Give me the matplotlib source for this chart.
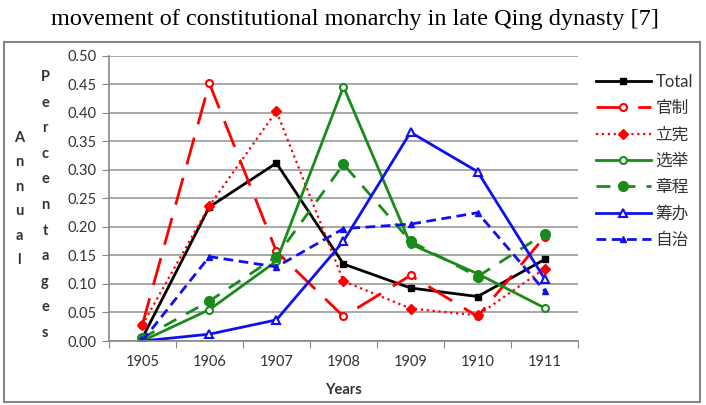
import matplotlib.pyplot as plt
import matplotlib.patches as mpatches
import numpy as np

plt.rcParams['font.family'] = ['Lato', 'Noto Sans CJK JP', 'DejaVu Sans']

years = ['1905', '1906', '1907', '1908', '1909', '1910', '1911']
total = [0.005, 0.235, 0.312, 0.135, 0.093, 0.078, 0.143]
guanzhi = [0.028, 0.452, 0.157, 0.043, 0.115, 0.043, 0.183]
lixian = [0.028, 0.237, 0.403, 0.105, 0.057, 0.045, 0.127]
xuanju = [0.0, 0.055, 0.140, 0.446, 0.170, 0.118, 0.058]
zhangcheng = [0.005, 0.070, 0.148, 0.310, 0.175, 0.113, 0.188]
choubang = [0.0, 0.012, 0.037, 0.175, 0.366, 0.297, 0.109]
zizhi = [0.0, 0.148, 0.130, 0.197, 0.205, 0.225, 0.088]

fig = plt.figure(figsize=(7.06, 4.05), dpi=100)
ax = fig.add_axes([0.154, 0.158, 0.665, 0.704])
x = np.arange(len(years))

ax.plot(x, total, color='black', lw=2, marker='s', ms=5, label='Total')
ax.plot(x, guanzhi, color='red', lw=2, dashes=(10, 5), marker='o', ms=5,
        mfc='white', mew=1.5, label='官制')
ax.plot(x, lixian, color='red', lw=1.6, ls=':', marker='D', ms=5, label='立宪')
ax.plot(x, xuanju, color='#1a8a1a', lw=2, marker='o', ms=5, mfc='white',
        mew=1.5, label='选举')
ax.plot(x, zhangcheng, color='#1a8a1a', lw=2, dashes=(5, 4), marker='o', ms=7,
        label='章程')
ax.plot(x, choubang, color='#1010ee', lw=2, marker='^', ms=6, mfc='white',
        mew=1.5, label='筹办')
ax.plot(x, zizhi, color='#1010ee', lw=2, dashes=(3.5, 2), marker='^', ms=5,
        label='自治')

ax.set_xlim(-0.5, 6.5)
ax.set_ylim(0, 0.5)
ax.set_yticks(np.arange(0, 0.501, 0.05))
ax.set_yticklabels(['%.2f' % v for v in np.arange(0, 0.501, 0.05)],
                   fontsize=10.5, color='#333333')
ax.yaxis.grid(True, color='#999999', lw=1.2)
ax.set_axisbelow(True)
ax.set_xticks(np.arange(-0.5, 7, 1))
ax.set_xticklabels([])
ax.set_xticks(x, minor=True)
ax.set_xticklabels(years, minor=True, fontsize=10.5, color='#333333')
ax.tick_params(axis='x', which='minor', length=0, pad=10)
ax.tick_params(axis='x', which='major', length=5, color='#888888')
ax.tick_params(axis='y', length=5, color='#888888')
for s in ['top', 'right']:
    ax.spines[s].set_visible(False)
for s in ['left', 'bottom']:
    ax.spines[s].set_color('#888888')
    ax.spines[s].set_linewidth(1.2)

ax.set_xlabel('Years', fontsize=10.5, fontweight='bold', color='#333333', labelpad=10)

# stacked vertical axis title letters
for i, ch in enumerate('Annual'):
    fig.text(19 / 706, 1 - (138 + i * 24.4) / 405, ch, fontsize=10.5,
             fontweight='bold', color='#333333', ha='center', va='center')
for i, ch in enumerate('Percentages'):
    fig.text(45 / 706, 1 - (77 + i * 25.6) / 405, ch, fontsize=10.5,
             fontweight='bold', color='#333333', ha='center', va='center')

leg = ax.legend(loc='upper left', bbox_to_anchor=(1.005, 0.99), frameon=False,
                fontsize=12, handlelength=3.3, handletextpad=0.3,
                labelspacing=0.62, labelcolor='#333333')

fig.text(0.503, 0.952, 'movement of constitutional monarchy in late Qing dynasty [7]',
         fontsize=17.5, family='Liberation Serif', ha='center', va='center')

fig.patches.append(mpatches.Rectangle((0.005, 0.008), 0.987, 0.888,
                                      transform=fig.transFigure, fill=False,
                                      ec='#888888', lw=1.5))

fig.savefig('out.png', dpi=100)
